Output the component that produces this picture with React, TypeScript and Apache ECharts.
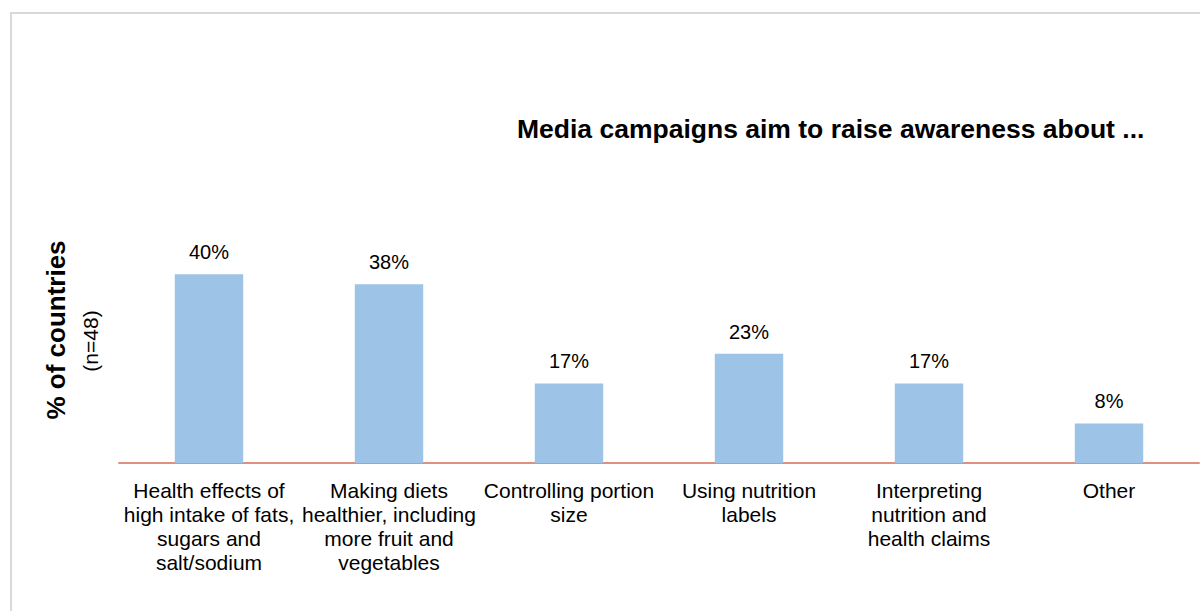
import React, { useEffect, useRef } from "react";
import * as echarts from "echarts";

const titleText = "Media campaigns aim to raise awareness about ...";
const yTitle = "% of countries";
const ySubtitle = "(n=48)";
const categories = [
  "Health effects of\nhigh intake of fats,\nsugars and\nsalt/sodium",
  "Making diets\nhealthier, including\nmore fruit and\nvegetables",
  "Controlling portion\nsize",
  "Using nutrition\nlabels",
  "Interpreting\nnutrition and\nhealth claims",
  "Other",
];
const values = [39.6, 37.5, 16.7, 22.9, 16.7, 8.3];

const FONT = "'Liberation Sans', Arial, Helvetica, sans-serif";

export default function App() {
  const ref = useRef<HTMLDivElement>(null);
  useEffect(() => {
    if (!ref.current) return;
    const chart = echarts.init(ref.current, null, { renderer: "svg" });
    chart.setOption({
      animation: false,
      backgroundColor: "#ffffff",
      title: {
        text: titleText,
        left: 512,
        top: 110,
        textStyle: { fontFamily: FONT, fontSize: 26.5, fontWeight: "bold", color: "#000000" },
      },
      grid: { left: 119, right: 1, top: 177, bottom: 148, containLabel: false },
      xAxis: {
        type: "category",
        data: categories,
        axisLine: { show: true, lineStyle: { color: "#E0907F", width: 2 } },
        axisTick: { show: false },
        axisLabel: {
          interval: 0,
          margin: 15,
          color: "#000000",
          fontFamily: FONT,
          fontSize: 21,
          lineHeight: 24,
          align: "center",
        },
      },
      yAxis: {
        type: "value",
        min: 0,
        max: 60,
        show: false,
        splitLine: { show: false },
      },
      series: [
        {
          type: "bar",
          data: values,
          barWidth: "38%",
          itemStyle: { color: "#9DC3E6" },
          label: {
            show: true,
            position: "top",
            distance: 12,
            formatter: (p: any) => Math.round(p.value) + "%",
            color: "#000000",
            fontFamily: FONT,
            fontSize: 20,
          },
        },
      ],
      graphic: [
        {
          type: "rect",
          shape: { x: 11, y: 13, width: 1300, height: 800 },
          style: { fill: "none", stroke: "#D9D9D9", lineWidth: 2 },
          silent: true,
        },
        {
          type: "text",
          x: 56,
          y: 330,
          rotation: Math.PI / 2,
          style: {
            text: yTitle,
            fontFamily: FONT,
            fontSize: 26,
            fontWeight: "bold",
            fill: "#000000",
            align: "center",
            verticalAlign: "middle",
          },
        },
        {
          type: "text",
          x: 90,
          y: 341,
          rotation: Math.PI / 2,
          style: {
            text: ySubtitle,
            fontFamily: FONT,
            fontSize: 21,
            fill: "#000000",
            align: "center",
            verticalAlign: "middle",
          },
        },
      ],
    });
    return () => chart.dispose();
  }, []);
  return (
    <div
      ref={ref}
      style={{ position: "fixed", left: 0, top: 0, width: 1200, height: 611 }}
    />
  );
}
